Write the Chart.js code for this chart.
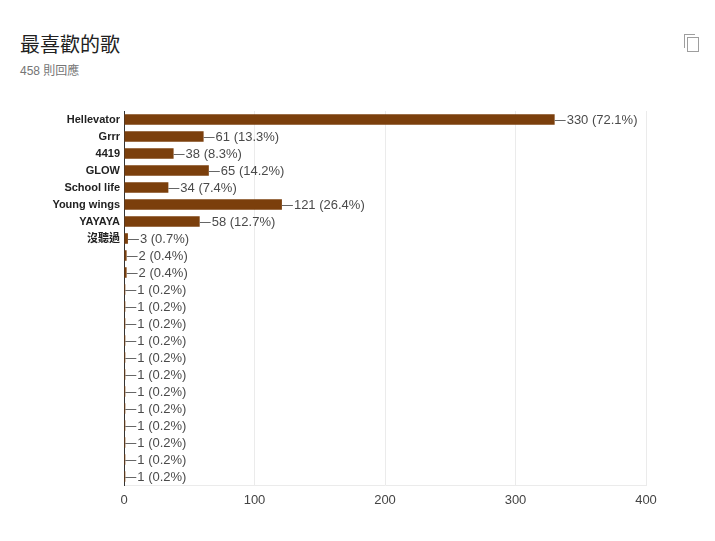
<!DOCTYPE html>
<html>
<head>
<meta charset="utf-8">
<script src="https://cdn.jsdelivr.net/npm/chart.js@4"></script>
<style>
  body { margin: 0; background: #fff; font-family: "Liberation Sans", "Noto Sans CJK TC", sans-serif; }
  #title { position: absolute; left: 20px; top: 29px; font-size: 20px; color: #212121; font-family: "Noto Sans CJK TC", sans-serif; }
  #sub { position: absolute; left: 20px; top: 61px; font-size: 12px; color: #757575; }
  .copy { position: absolute; width: 10px; height: 13px; border: 1.5px solid #9e9e9e; background: #fff; }
  #wrap { position: absolute; left: 0; top: 100px; width: 715px; height: 420px; }
</style>
</head>
<body>
<div id="title">最喜歡的歌</div>
<div id="sub">458 則回應</div>
<div class="copy" style="left:684px;top:34px;border-right:none;border-bottom:none;"></div>
<div class="copy" style="left:687px;top:37px;"></div>
<div id="wrap"><canvas id="chart"></canvas></div>
<script>
const categories = ['Hellevator', 'Grrr', '4419', 'GLOW', 'School life', 'Young wings', 'YAYAYA', '沒聽過',
  '', '', '', '', '', '', '', '', '', '', '', '', '', ''];
const votes = [330, 61, 38, 65, 34, 121, 58, 3, 2, 2, 1, 1, 1, 1, 1, 1, 1, 1, 1, 1, 1, 1];
const totalResponses = 458;
const xTicks = [0, 100, 200, 300, 400];

const valueLabels = {
  id: 'valueLabels',
  afterDatasetsDraw(chart) {
    const ctx = chart.ctx;
    const meta = chart.getDatasetMeta(0);
    ctx.save();
    ctx.font = '13px "Liberation Sans", Arial, sans-serif';
    ctx.textBaseline = 'middle';
    meta.data.forEach((bar, i) => {
      const v = votes[i];
      const pct = (v / totalResponses * 100).toFixed(1);
      const x = bar.x, y = bar.y;
      ctx.strokeStyle = '#666';
      ctx.lineWidth = 1;
      ctx.beginPath();
      ctx.moveTo(x, Math.round(y) + 0.5);
      ctx.lineTo(x + 11, Math.round(y) + 0.5);
      ctx.stroke();
      ctx.fillStyle = '#4a4a4a';
      ctx.fillText(v + ' (' + pct + '%)', x + 12, y + 1);
    });
    ctx.restore();
  }
};

window.onload = function () {
  const ctx = document.getElementById('chart').getContext('2d');
  new Chart(ctx, {
    type: 'bar',
    data: {
      labels: categories,
      datasets: [{
        data: votes,
        backgroundColor: '#7b3f0c',
        borderWidth: 0,
        barPercentage: 0.62,
        categoryPercentage: 1
      }]
    },
    options: {
      indexAxis: 'y',
      responsive: true,
      maintainAspectRatio: false,
      animation: false,
      layout: { padding: { top: 11, right: 69, left: 0, bottom: 0 } },
      plugins: {
        legend: { display: false },
        tooltip: { enabled: false }
      },
      scales: {
        x: {
          min: 0, max: 400,
          afterBuildTicks: s => { s.ticks = xTicks.map(v => ({ value: v })); },
          afterFit: s => { s.height = 35; },
          grid: {
            color: c => c.tick && c.tick.value === 0 ? 'rgba(0,0,0,0)' : '#ebebeb',
            drawTicks: false
          },
          border: { color: '#ebebeb' },
          ticks: { color: '#444', font: { size: 13, family: '"Liberation Sans", Arial' }, padding: 8 }
        },
        y: {
          afterFit: s => { s.width = 124; },
          grid: { display: false, drawTicks: false },
          border: { color: '#333', width: 1 },
          ticks: {
            autoSkip: false,
            color: '#222',
            padding: 4,
            font: { size: 11, weight: 'bold', family: '"Liberation Sans", "Noto Sans CJK TC", Arial' }
          }
        }
      }
    },
    plugins: [valueLabels]
  });
};
</script>
</body>
</html>
